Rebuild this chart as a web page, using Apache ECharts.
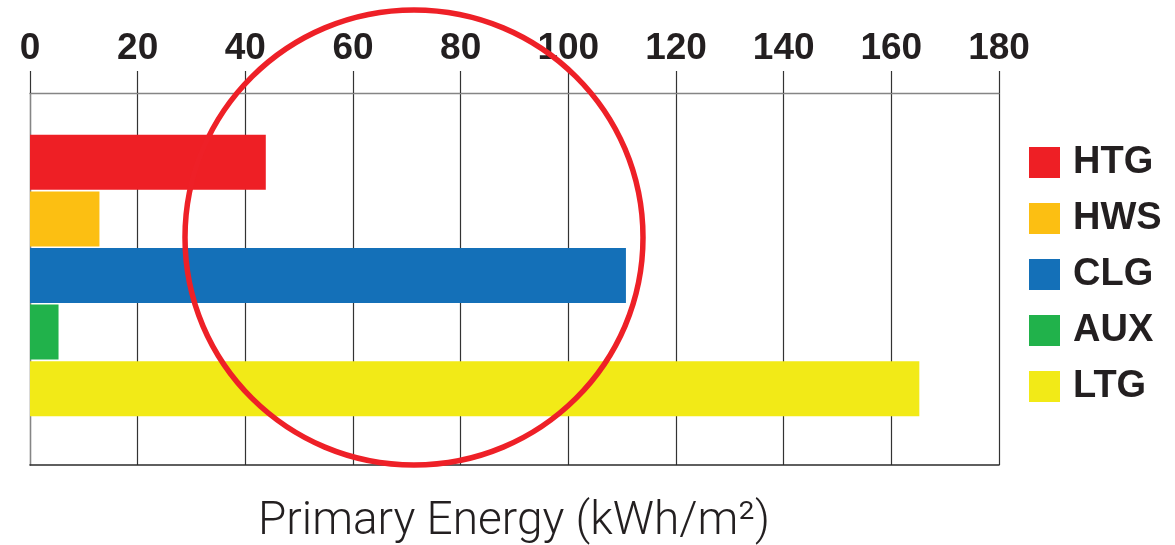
<!DOCTYPE html>
<html>
<head>
<meta charset="utf-8">
<script src="https://cdn.jsdelivr.net/npm/echarts@6/dist/echarts.min.js"></script>
<style>
  html, body { margin: 0; padding: 0; background: #ffffff; }
  #chart { width: 1175px; height: 545px; }
</style>
</head>
<body>
<div id="chart"></div>
<script>
// End-use categories and their primary energy (kWh/m²)
const categories = ['HTG', 'HWS', 'CLG', 'AUX', 'LTG'];
const energyValues = [43.8, 12.9, 110.7, 5.3, 165.2];
const barColors = ['#ee1f25', '#fcbf12', '#1470b8', '#21b24b', '#f2ea17'];
const axisTicks = { min: 0, max: 180, interval: 20 };
const axisTitle = 'Primary Energy (kWh/m²)';

const FONT = '"Liberation Sans", Arial, Helvetica, sans-serif';
const INK = '#231f20';

const chart = echarts.init(document.getElementById('chart'), null, { renderer: 'canvas' });

// One series per end use so each gets its own legend entry;
// barGap -100% keeps every bar centred in its own category row.
const series = categories.map((name, i) => ({
  name: name,
  type: 'bar',
  xAxisIndex: 2,
  yAxisIndex: 1,
  barWidth: 55,
  barGap: '-100%',
  itemStyle: { color: barColors[i] },
  data: categories.map((c, j) => (j === i ? energyValues[i] : '-')),
  silent: true
}));

const option = {
  animation: false,
  backgroundColor: '#ffffff',
  grid: [
    // frame with grid lines
    { left: 30, right: 176, top: 93, bottom: 80 },
    // band holding the bars
    { left: 30, right: 176, top: 134, height: 283 }
  ],
  xAxis: [
    {
      gridIndex: 0,
      type: 'value',
      position: 'top',
      min: axisTicks.min, max: axisTicks.max, interval: axisTicks.interval,
      axisLine: { show: true, onZero: false, lineStyle: { color: '#858585', width: 1.3 } },
      axisTick: { show: true, inside: false, length: 22, lineStyle: { color: '#333333', width: 1.2 } },
      splitLine: { show: true, lineStyle: { color: '#333333', width: 1.2 } },
      axisLabel: { color: INK, fontFamily: FONT, fontWeight: 'bold', fontSize: 37, margin: 26, lineHeight: 37 }
    },
    {
      gridIndex: 0,
      type: 'value',
      position: 'bottom',
      min: axisTicks.min, max: axisTicks.max, interval: axisTicks.interval,
      axisLine: { show: true, onZero: false, lineStyle: { color: '#2b2b2b', width: 1.6 } },
      axisTick: { show: false },
      splitLine: { show: false },
      axisLabel: { show: false }
    },
    {
      gridIndex: 1,
      type: 'value',
      min: axisTicks.min, max: axisTicks.max, interval: axisTicks.interval,
      show: false
    }
  ],
  yAxis: [
    {
      gridIndex: 0,
      type: 'value',
      min: 0, max: 1,
      axisLine: { show: true, onZero: false, lineStyle: { color: '#858585', width: 1.3 } },
      axisTick: { show: false },
      axisLabel: { show: false },
      splitLine: { show: false }
    },
    {
      gridIndex: 1,
      type: 'category',
      inverse: true,
      data: categories,
      show: false
    }
  ],
  legend: {
    orient: 'vertical',
    left: 1029,
    top: 143.5,
    padding: 0,
    itemWidth: 31,
    itemHeight: 31,
    itemGap: 18,
    icon: 'rect',
    selectedMode: false,
    textStyle: { color: INK, fontFamily: FONT, fontWeight: 'bold', fontSize: 38, padding: [0, 0, 0, 8] },
    data: categories
  },
  series: series,
  graphic: [
    {
      type: 'text',
      x: 514,
      y: 499,
      style: {
        text: axisTitle,
        fill: INK,
        align: 'center',
        verticalAlign: 'top',
        font: '300 46px Roboto, "Open Sans", "Liberation Sans", sans-serif'
      }
    },
    {
      type: 'ellipse',
      shape: { cx: 414, cy: 237.5, rx: 229, ry: 227.5 },
      style: { fill: 'none', stroke: '#ee2027', lineWidth: 5.5 },
      z: 100
    }
  ]
};

chart.setOption(option);
</script>
</body>
</html>
